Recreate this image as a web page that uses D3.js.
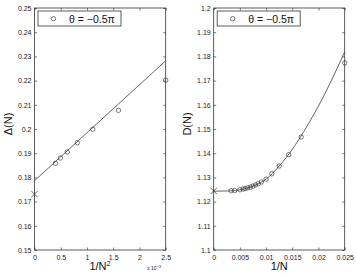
<!DOCTYPE html>
<html>
<head>
<meta charset="utf-8">
<script src="https://d3js.org/d3.v7.min.js"></script>
<style>
  body { margin: 0; background: #fff; }
  text { font-family: "Liberation Sans", Arial, sans-serif; }
</style>
</head>
<body>
<div id="chart"></div>
<script>
// left panel: Delta(N) vs 1/N^2 (x in units of 1e-3)
const leftX = [2.5, 1.6, 1.111, 0.816, 0.625, 0.494, 0.4];
const leftY = [0.2202, 0.2077, 0.1999, 0.1943, 0.1905, 0.188, 0.1858];
const leftFitX = [0, 2.5];
const leftFitY = [0.1786, 0.2282];
const leftCross = [0, 0.1731];
const leftXTicks = [0, 0.5, 1, 1.5, 2, 2.5];
const leftYTicks = [0.15, 0.16, 0.17, 0.18, 0.19, 0.2, 0.21, 0.22, 0.23, 0.24, 0.25];

// right panel: D(N) vs 1/N
const rightX = [0.025, 0.0167, 0.0143, 0.0125, 0.0111, 0.01, 0.0091, 0.0085, 0.008, 0.0075,
                0.007, 0.0065, 0.006, 0.0056, 0.005, 0.004, 0.00333];
const rightY = [1.1773, 1.1467, 1.1394, 1.1347, 1.1315, 1.1293, 1.1281, 1.1274, 1.1269, 1.1264,
                1.126, 1.1257, 1.1254, 1.1252, 1.1249, 1.1246, 1.1245];
const rightFitX = [0, 0.003, 0.005, 0.0075, 0.01, 0.0125, 0.015, 0.0175, 0.02, 0.0225, 0.025];
const rightFitY = [1.1243, 1.1244, 1.1249, 1.1264, 1.1293, 1.1347, 1.1416, 1.1500, 1.1595, 1.1702, 1.1819];
const rightCross = [0, 1.1244];
const rightXTicks = [0, 0.005, 0.01, 0.015, 0.02, 0.025];
const rightYTicks = [1.1, 1.11, 1.12, 1.13, 1.14, 1.15, 1.16, 1.17, 1.18, 1.19, 1.2];

const legendText = "θ = −0.5π";

const svg = d3.select("#chart").append("svg")
  .attr("width", 356).attr("height", 278);

function panel(opt) {
  const x = d3.scaleLinear().domain(opt.xDomain).range([opt.left, opt.right]);
  const y = d3.scaleLinear().domain(opt.yDomain).range([250, 8]);
  const g = svg.append("g");
  const tk = 2.5;

  // ticks (inward, all four sides)
  const xa = g.append("g").attr("transform", "translate(0,250)")
    .call(d3.axisBottom(x).tickValues(opt.xTicks).tickSize(-tk).tickPadding(5)
      .tickFormat(d => String(+d.toFixed(4))));
  const xt = g.append("g").attr("transform", "translate(0,8)")
    .call(d3.axisTop(x).tickValues(opt.xTicks).tickSize(-tk).tickFormat(""));
  const ya = g.append("g").attr("transform", "translate(" + opt.left + ",0)")
    .call(d3.axisLeft(y).tickValues(opt.yTicks).tickSize(-tk).tickPadding(3)
      .tickFormat(d => String(+d.toFixed(3))));
  const yr = g.append("g").attr("transform", "translate(" + opt.right + ",0)")
    .call(d3.axisRight(y).tickValues(opt.yTicks).tickSize(-tk).tickFormat(""));
  [xa, xt, ya, yr].forEach(a => {
    a.select(".domain").remove();
    a.selectAll("line").attr("stroke", "#444").attr("stroke-width", 0.7);
    a.selectAll("text").attr("font-size", "7px").attr("fill", "#222")
      .style("font-family", "Liberation Sans, Arial, sans-serif");
  });

  g.append("rect")
    .attr("x", opt.left).attr("y", 8)
    .attr("width", opt.right - opt.left).attr("height", 242)
    .attr("fill", "none").attr("stroke", "#333").attr("stroke-width", 0.8);

  const clipId = "clip" + opt.id;
  svg.append("clipPath").attr("id", clipId).append("rect")
    .attr("x", opt.left).attr("y", 8)
    .attr("width", opt.right - opt.left).attr("height", 242);

  const fit = opt.fitX.map((v, i) => [v, opt.fitY[i]]);
  g.append("path").datum(fit)
    .attr("clip-path", "url(#" + clipId + ")")
    .attr("fill", "none").attr("stroke", "#222").attr("stroke-width", 0.7)
    .attr("d", d3.line().x(d => x(d[0])).y(d => y(d[1])).curve(d3.curveMonotoneX));

  const pts = opt.px.map((v, i) => [v, opt.py[i]]);
  g.selectAll("circle.pt").data(pts).enter().append("circle")
    .attr("class", "pt")
    .attr("cx", d => x(d[0])).attr("cy", d => y(d[1])).attr("r", 2.2)
    .attr("fill", "none").attr("stroke", "#222").attr("stroke-width", 0.6);

  const cx = x(opt.cross[0]), cy = y(opt.cross[1]), s = 3.2;
  g.append("path")
    .attr("d", `M${cx - s},${cy - s}L${cx + s},${cy + s}M${cx - s},${cy + s}L${cx + s},${cy - s}`)
    .attr("stroke", "#222").attr("stroke-width", 0.7);

  // legend
  const lx = opt.left + 3.5;
  g.append("rect").attr("x", lx).attr("y", 11).attr("width", 83).attr("height", 15)
    .attr("fill", "#fff").attr("stroke", "#333").attr("stroke-width", 0.8);
  g.append("circle").attr("cx", lx + 15.5).attr("cy", 18.7).attr("r", 2.2)
    .attr("fill", "none").attr("stroke", "#222").attr("stroke-width", 0.6);
  g.append("text").attr("x", lx + 31).attr("y", 22.5)
    .attr("font-size", "10.5px").attr("fill", "#111").text(legendText);

  // axis labels
  const xl = g.append("text").attr("x", (opt.left + opt.right) / 2).attr("y", 270)
    .attr("text-anchor", "middle").attr("font-size", "11px").attr("fill", "#111");
  xl.append("tspan").text(opt.xLabel);
  if (opt.xSup) {
    xl.append("tspan").attr("dy", -4).attr("font-size", "7.5px").text(opt.xSup);
  }
  g.append("text")
    .attr("transform", "translate(" + (opt.left - 23) + ",124) rotate(-90)")
    .attr("text-anchor", "middle").attr("font-size", "11px").attr("fill", "#111")
    .text(opt.yLabel);
}

panel({
  id: "L", left: 34.5, right: 165.7,
  xDomain: [0, 2.5], yDomain: [0.15, 0.25],
  xTicks: leftXTicks, yTicks: leftYTicks,
  px: leftX, py: leftY, fitX: leftFitX, fitY: leftFitY, cross: leftCross,
  xLabel: "1/N", xSup: "2", yLabel: "Δ(N)"
});

panel({
  id: "R", left: 213.7, right: 344.7,
  xDomain: [0, 0.025], yDomain: [1.1, 1.2],
  xTicks: rightXTicks, yTicks: rightYTicks,
  px: rightX, py: rightY, fitX: rightFitX, fitY: rightFitY, cross: rightCross,
  xLabel: "1/N", yLabel: "D(N)"
});

// exponent note under the left x axis
const ex = svg.append("text").attr("x", 147).attr("y", 270)
  .attr("font-size", "5px").attr("fill", "#222");
ex.append("tspan").text("x 10");
ex.append("tspan").attr("dy", -2.5).attr("font-size", "4px").text("−3");
</script>
</body>
</html>
